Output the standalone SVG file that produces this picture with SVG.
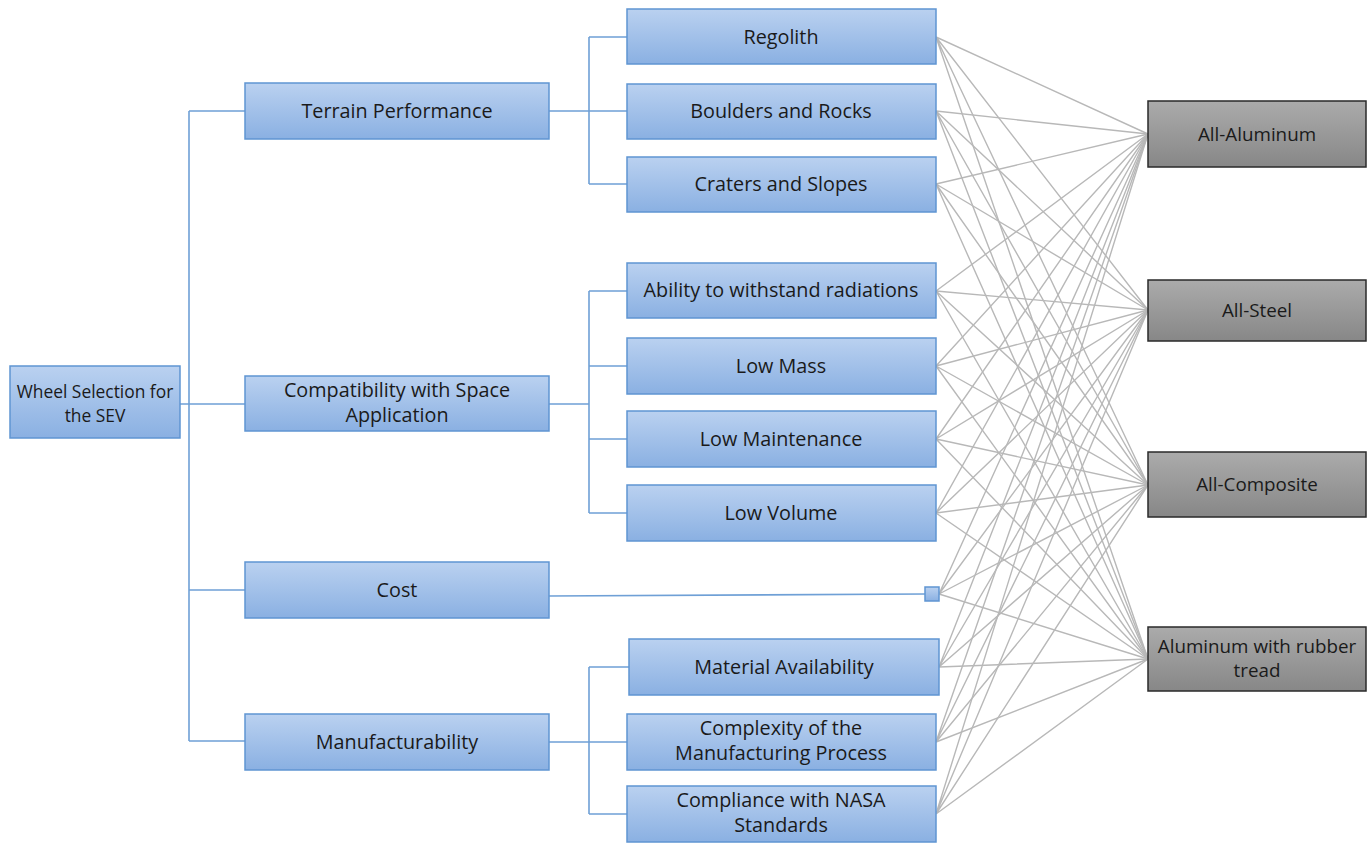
<svg xmlns="http://www.w3.org/2000/svg" width="1370" height="844" viewBox="0 0 1370 844">
<defs>
<linearGradient id="gb" x1="0" y1="0" x2="0" y2="1"><stop offset="0" stop-color="#bad1f0"/><stop offset="1" stop-color="#8ab0e2"/></linearGradient>
<linearGradient id="gg" x1="0" y1="0" x2="0" y2="1"><stop offset="0" stop-color="#ababab"/><stop offset="1" stop-color="#878787"/></linearGradient>
</defs>
<style>
.b{fill:url(#gb);stroke:#5f95d2;stroke-width:1.5}
.g{fill:url(#gg);stroke:#2a2a2a;stroke-width:1.5}
.t{font-family:"Open Sans","Noto Sans",sans-serif;font-size:19.8px;fill:#1a1a1a;text-anchor:middle}
.tg{font-family:"Open Sans","Noto Sans",sans-serif;font-size:18.8px;fill:#1a1a1a;text-anchor:middle}
.ts{font-family:"Open Sans","Noto Sans",sans-serif;font-size:17.4px;fill:#1a1a1a;text-anchor:middle}
.tree{stroke:#6fa0d6;stroke-width:1.6;fill:none}
.x{stroke:#b8b8b8;stroke-width:1.4;fill:none}
</style>
<g id="connectors">
<path class="tree" d="M180 404H245M189 111V741M189 111H245M189 590H245M189 741H245"/>
<path class="tree" d="M549 111H627M589 37V184M589 37H627M589 184H627"/>
<path class="tree" d="M549 404H589M589 291V513M589 291H627M589 366H627M589 439H627M589 513H627"/>
<path class="tree" d="M549 742H627M589 667V814M589 667H629M589 814H627"/>
<path class="tree" d="M549 596L925 594"/>
<g class="x">
<path d="M936 37L1148 134M936 37L1148 310M936 37L1148 485M936 37L1148 659"/>
<path d="M936 111L1148 134M936 111L1148 310M936 111L1148 485M936 111L1148 659"/>
<path d="M936 184L1148 134M936 184L1148 310M936 184L1148 485M936 184L1148 659"/>
<path d="M936 291L1148 134M936 291L1148 310M936 291L1148 485M936 291L1148 659"/>
<path d="M936 366L1148 134M936 366L1148 310M936 366L1148 485M936 366L1148 659"/>
<path d="M936 439L1148 134M936 439L1148 310M936 439L1148 485M936 439L1148 659"/>
<path d="M936 513L1148 134M936 513L1148 310M936 513L1148 485M936 513L1148 659"/>
<path d="M939 594L1148 134M939 594L1148 310M939 594L1148 485M939 594L1148 659"/>
<path d="M939 667L1148 134M939 667L1148 310M939 667L1148 485M939 667L1148 659"/>
<path d="M936 742L1148 134M936 742L1148 310M936 742L1148 485M936 742L1148 659"/>
<path d="M936 814L1148 134M936 814L1148 310M936 814L1148 485M936 814L1148 659"/>
</g>
</g>
<g id="root"><rect class="b" x="10" y="366" width="170" height="72"/><text class="ts" x="95" y="398">Wheel Selection for</text><text class="ts" x="95" y="422">the SEV</text></g>
<g id="terrain"><rect class="b" x="245" y="83" width="304" height="56"/><text class="t" x="397" y="118">Terrain Performance</text></g>
<g id="compat"><rect class="b" x="245" y="376" width="304" height="55"/><text class="t" x="397" y="397">Compatibility with Space</text><text class="t" x="397" y="422">Application</text></g>
<g id="cost"><rect class="b" x="245" y="562" width="304" height="56"/><text class="t" x="397" y="597">Cost</text></g>
<g id="manuf"><rect class="b" x="245" y="714" width="304" height="56"/><text class="t" x="397" y="749">Manufacturability</text></g>
<g id="regolith"><rect class="b" x="627" y="9" width="309" height="55"/><text class="t" x="781" y="44">Regolith</text></g>
<g id="boulders"><rect class="b" x="627" y="84" width="309" height="55"/><text class="t" x="781" y="118">Boulders and Rocks</text></g>
<g id="craters"><rect class="b" x="627" y="157" width="309" height="55"/><text class="t" x="781" y="191">Craters and Slopes</text></g>
<g id="radiation"><rect class="b" x="627" y="263" width="309" height="55"/><text class="t" x="781" y="297">Ability to withstand radiations</text></g>
<g id="lowmass"><rect class="b" x="627" y="338" width="309" height="56"/><text class="t" x="781" y="373">Low Mass</text></g>
<g id="lowmaint"><rect class="b" x="627" y="411" width="309" height="56"/><text class="t" x="781" y="446">Low Maintenance</text></g>
<g id="lowvol"><rect class="b" x="627" y="485" width="309" height="56"/><text class="t" x="781" y="520">Low Volume</text></g>
<g id="costnode"><rect class="b" x="925" y="587" width="14" height="14"/></g>
<g id="material"><rect class="b" x="629" y="639" width="310" height="56"/><text class="t" x="784" y="674">Material Availability</text></g>
<g id="complexity"><rect class="b" x="627" y="714" width="309" height="56"/><text class="t" x="781" y="735">Complexity of the</text><text class="t" x="781" y="760">Manufacturing Process</text></g>
<g id="nasa"><rect class="b" x="627" y="786" width="309" height="56"/><text class="t" x="781" y="807">Compliance with NASA</text><text class="t" x="781" y="832">Standards</text></g>
<g id="alu"><rect class="g" x="1148" y="101" width="218" height="66"/><text class="tg" x="1257" y="141">All-Aluminum</text></g>
<g id="steel"><rect class="g" x="1148" y="280" width="218" height="61"/><text class="tg" x="1257" y="317">All-Steel</text></g>
<g id="composite"><rect class="g" x="1148" y="452" width="218" height="65"/><text class="tg" x="1257" y="491">All-Composite</text></g>
<g id="rubber"><rect class="g" x="1148" y="627" width="218" height="64"/><text class="tg" x="1257" y="653">Aluminum with rubber</text><text class="tg" x="1257" y="677">tread</text></g>
</svg>
